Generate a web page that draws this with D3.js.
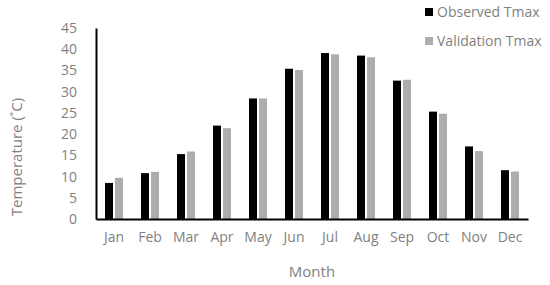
<!DOCTYPE html>
<html>
<head>
<meta charset="utf-8">
<script src="https://cdn.jsdelivr.net/npm/d3@7"></script>
<style>
  html, body { margin:0; padding:0; background:#fff; }
  text { font-family: "Open Sans", "Noto Sans", sans-serif; }
</style>
</head>
<body>
<div id="chart"></div>
<script>
// monthly max temperature, observed vs validation
const months = ['Jan','Feb','Mar','Apr','May','Jun','Jul','Aug','Sep','Oct','Nov','Dec'];
const observed = [8.5, 10.8, 15.3, 22.0, 28.4, 35.4, 39.1, 38.5, 32.6, 25.3, 17.1, 11.5];
const validation = [9.7, 11.1, 15.9, 21.4, 28.4, 35.1, 38.8, 38.1, 32.8, 24.8, 16.0, 11.2];
const yTicks = [0,5,10,15,20,25,30,35,40,45];
const seriesNames = ['Observed Tmax','Validation Tmax'];
const seriesColors = ['#000000','#afacac'];

const W = 550, H = 285;
const m = {left:96, right:22, top:28, bottom:66};
const textCol = '#7f7f7f';

const svg = d3.select('#chart').append('svg')
  .attr('width', W).attr('height', H);

const x = d3.scaleBand().domain(months).range([m.left, W-m.right]);
const y = d3.scaleLinear().domain([0,45]).range([H-m.bottom, m.top]);
const barW = 8, gap = 2;

const series = [observed, validation];
series.forEach((vals, si)=>{
  svg.append('g').selectAll('rect').data(months).enter().append('rect')
    .attr('x', d=> x(d) + x.bandwidth()/2 - barW - gap/2 + si*(barW+gap))
    .attr('y', (d,i)=> y(vals[i]))
    .attr('width', barW)
    .attr('height', (d,i)=> y(0)-y(vals[i]))
    .attr('fill', seriesColors[si]);
});

// y axis
const yAx = svg.append('g').attr('transform',`translate(${m.left},0)`)
  .call(d3.axisLeft(y).tickValues(yTicks).tickSize(0).tickPadding(19));
yAx.select('.domain').attr('stroke','#000').attr('stroke-width',2);
yAx.selectAll('text').attr('fill',textCol).style('font-size','14px')
  .style('font-family','"Open Sans", sans-serif');

// x axis
const xAx = svg.append('g').attr('transform',`translate(0,${y(0)})`)
  .call(d3.axisBottom(x).tickSize(0).tickSizeOuter(0).tickPadding(13));
xAx.select('.domain').attr('stroke','#000').attr('stroke-width',2);
xAx.selectAll('text').attr('fill',textCol).style('font-size','14px')
  .style('font-family','"Open Sans", sans-serif');

// axis titles
svg.append('text')
  .attr('transform','translate(22,157) rotate(-90)')
  .attr('text-anchor','middle').attr('fill',textCol)
  .style('font-size','15px').text('Temperature (˚C)');
svg.append('text')
  .attr('x', (m.left + W - m.right)/2).attr('y', 277)
  .attr('text-anchor','middle').attr('fill',textCol)
  .style('font-size','15px').text('Month');

// legend
const leg = svg.append('g').attr('transform','translate(425,12)');
seriesNames.forEach((nm,i)=>{
  const g = leg.append('g').attr('transform',`translate(0,${i*29})`);
  g.append('rect').attr('x',0).attr('y',-4).attr('width',8).attr('height',8).attr('fill',seriesColors[i]);
  g.append('text').attr('x',12).attr('y',5).attr('fill',textCol)
    .style('font-size','14px').text(nm);
});
</script>
</body>
</html>
